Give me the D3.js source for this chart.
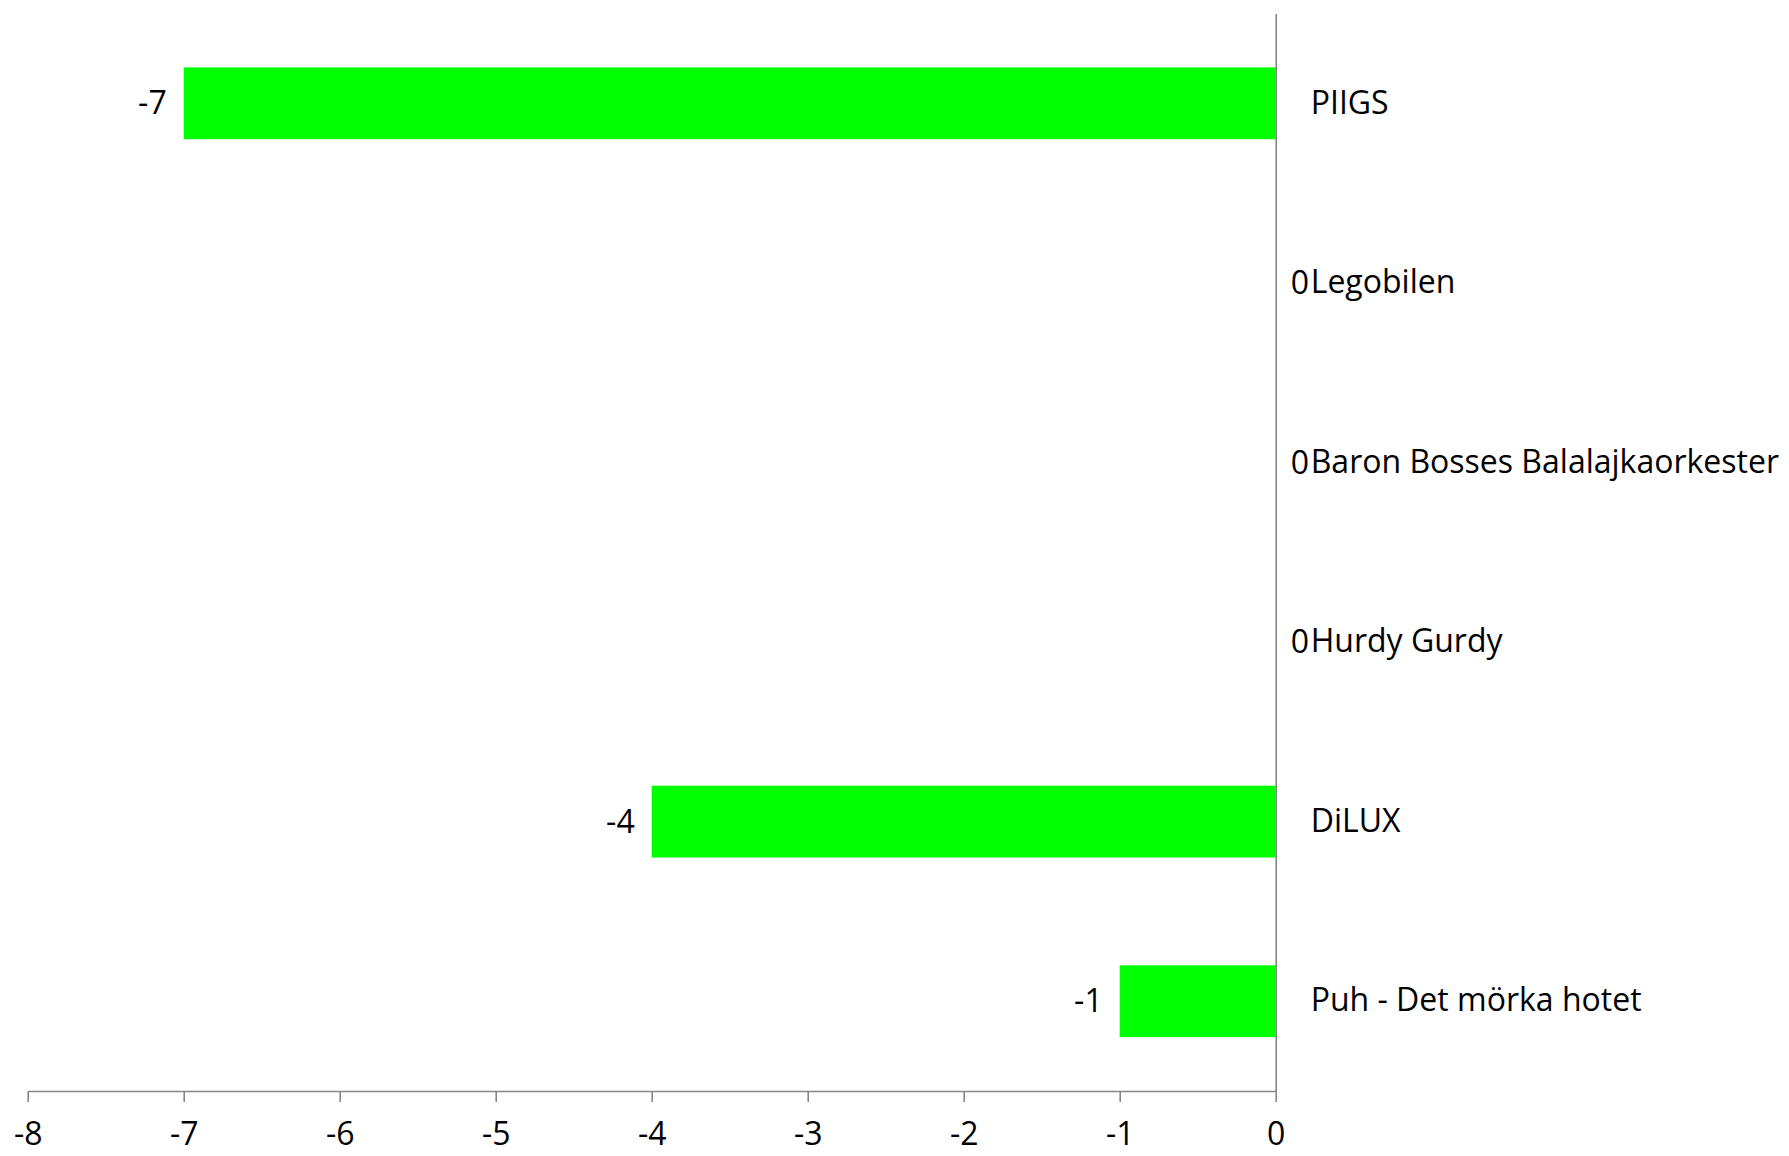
<!DOCTYPE html>
<html>
<head>
<meta charset="utf-8">
<script src="https://cdn.jsdelivr.net/npm/d3@7"></script>
<style>
  html, body { margin: 0; padding: 0; background: #ffffff; }
  svg { display: block; }
  text { font-family: "Open Sans", Lato, sans-serif; fill: #000; }
</style>
</head>
<body>
<svg id="chart" width="1789" height="1156"></svg>
<script>
const categories = ["PIIGS", "Legobilen", "Baron Bosses Balalajkaorkester", "Hurdy Gurdy", "DiLUX", "Puh - Det mörka hotet"];
const values = [-7, 0, 0, 0, -4, -1];
const xTicks = [-8, -7, -6, -5, -4, -3, -2, -1, 0];

const data = categories.map((c, i) => ({ cat: c, val: values[i] }));

const svg = d3.select("#chart");
const fontSize = 32;
const fontFamily = "'Open Sans', Lato, sans-serif";

const x = d3.scaleLinear().domain([-8, 0]).range([27.7, 1275.7]);
const y = d3.scaleBand().domain(categories).range([13.5, 1091]).paddingInner(0.6).paddingOuter(0.3);

const axisColor = "#868686";

// bars
svg.append("g").selectAll("rect").data(data).join("rect")
  .attr("x", d => x(Math.min(0, d.val)))
  .attr("y", d => y(d.cat))
  .attr("width", d => Math.abs(x(d.val) - x(0)))
  .attr("height", y.bandwidth())
  .attr("fill", "#00ff00");

// x axis
const xAxis = svg.append("g")
  .attr("transform", `translate(0,${y.range()[1]})`)
  .call(d3.axisBottom(x).tickValues(xTicks).tickSize(11).tickSizeOuter(0).tickPadding(20).tickFormat(d => String(d)));
xAxis.attr("font-family", fontFamily).attr("font-size", fontSize);
xAxis.selectAll("path, line").attr("stroke", axisColor).attr("stroke-width", 1.6);
xAxis.selectAll("text").attr("font-size", fontSize).attr("font-family", fontFamily).attr("fill", "#000");

// y axis (category labels right of zero line)
const yAxis = svg.append("g")
  .attr("transform", `translate(${x(0)},0)`)
  .call(d3.axisRight(y).tickSize(0).tickSizeOuter(0).tickPadding(35));
yAxis.attr("font-family", fontFamily).attr("font-size", fontSize);
yAxis.select("path").attr("stroke", axisColor).attr("stroke-width", 1.6);
yAxis.selectAll("text").attr("font-size", fontSize).attr("font-family", fontFamily).attr("fill", "#000");

// value labels
svg.append("g").selectAll("text").data(data).join("text")
  .attr("x", d => d.val < 0 ? x(d.val) - 17 : x(d.val) + 15)
  .attr("y", d => y(d.cat) + y.bandwidth() / 2)
  .attr("dy", "0.35em")
  .attr("text-anchor", d => d.val < 0 ? "end" : "start")
  .attr("font-size", fontSize)
  .attr("font-family", fontFamily)
  .text(d => String(d.val));
</script>
</body>
</html>
